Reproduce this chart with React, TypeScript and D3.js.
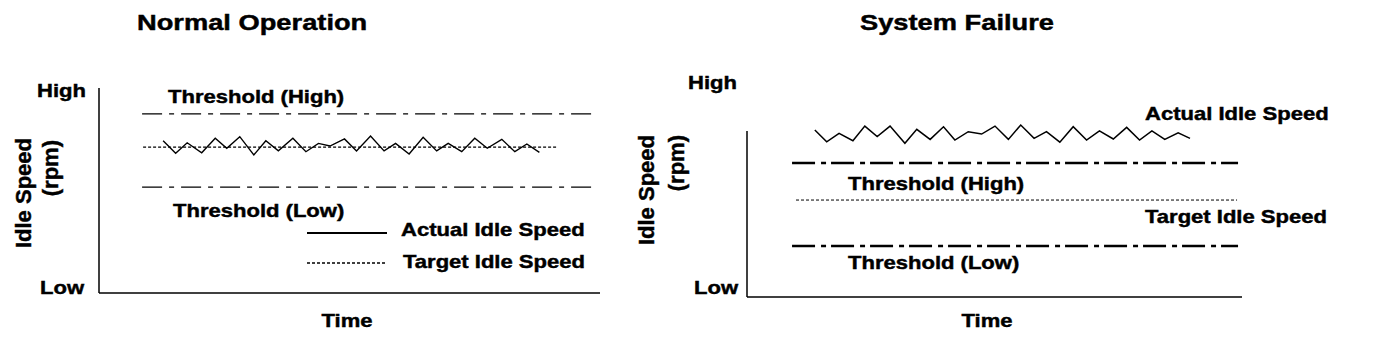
import React from "react";
import * as d3 from "d3";

// ---------- data (time 0..100, idle speed 0 = Low .. 100 = High) ----------
const leftTime = [12.8, 15.3, 17.6, 20.5, 23.2, 25.5, 28.1, 30.9, 33.3, 35.8, 38.7, 41.3, 43.8, 46.1, 49.0, 51.4, 54.2, 56.9, 59.2, 61.9, 64.7, 67.4, 69.7, 72.4, 75.0, 77.5, 80.4, 83.0, 85.4, 87.9];
const leftActual = [75.0, 68.8, 74.0, 69.1, 76.2, 71.3, 77.0, 68.0, 75.0, 70.0, 76.2, 69.6, 73.7, 72.4, 75.9, 70.0, 77.3, 70.0, 73.7, 68.5, 76.7, 70.0, 73.7, 69.6, 76.2, 71.3, 75.7, 69.6, 73.4, 69.3];
const leftThresholdHigh = 88.2;
const leftTarget = 71.9;
const leftThresholdLow = 52.2;
const leftThresholdSpan = [8.6, 98.4];
const leftTargetSpan = [8.8, 91.4];

const rightTime = [13.7, 16.1, 18.6, 21.4, 23.8, 26.3, 28.9, 31.9, 34.3, 37.0, 39.7, 42.0, 44.7, 47.4, 50.1, 52.8, 55.3, 58.0, 60.5, 63.2, 65.9, 68.6, 71.2, 74.0, 76.7, 79.3, 81.8, 84.4, 87.1, 89.5];
const rightActual = [77.7, 72.2, 76.1, 72.7, 79.5, 74.6, 79.5, 71.5, 78.0, 73.3, 79.2, 73.0, 76.9, 75.8, 79.5, 73.3, 80.0, 73.8, 76.9, 72.0, 79.2, 73.0, 77.3, 73.5, 78.9, 73.0, 77.3, 73.3, 76.4, 73.8];
const rightThresholdHigh = 62.3;
const rightTarget = 45.1;
const rightThresholdLow = 23.7;
const rightThresholdSpan = [9.1, 99.2];
const rightTargetSpan = [9.9, 99.0];

const titles = ["Normal Operation", "System Failure"];
const yTickLabels = ["High", "Low"];
const yAxisTitle = ["Idle Speed", "(rpm)"];
const xAxisTitle = "Time";
const seriesNames = ["Actual Idle Speed", "Target Idle Speed", "Threshold (High)", "Threshold (Low)"];

const FONT = "'Liberation Sans', Arial, Helvetica, sans-serif";

type TProps = { x: number; y: number; size: number; sx?: number; anchor?: string; children: React.ReactNode };
function T({ x, y, size, sx = 1.16, anchor = "start", children }: TProps) {
  return (
    <text
      transform={`translate(${x},${y}) scale(${sx},1)`}
      fontFamily={FONT}
      fontWeight="bold"
      fontSize={size}
      textAnchor={anchor}
      fill="#000"
      stroke="#000"
      strokeWidth={0.45}
    >
      {children}
    </text>
  );
}

function VText({ x, y, children }: { x: number; y: number; children: React.ReactNode }) {
  return (
    <text
      transform={`translate(${x},${y}) rotate(-90)`}
      fontFamily={FONT}
      fontWeight="bold"
      fontSize={22}
      textAnchor="end"
      fill="#000"
      stroke="#000"
      strokeWidth={0.45}
    >
      {children}
    </text>
  );
}

export default function App() {
  // ----- left panel scales -----
  const xL = d3.scaleLinear().domain([0, 100]).range([99, 600]);
  const yL = d3.scaleLinear().domain([0, 100]).range([293, 90]);
  // ----- right panel scales -----
  const xR = d3.scaleLinear().domain([0, 100]).range([747, 1242]);
  const yR = d3.scaleLinear().domain([0, 100]).range([297, 82]);

  const lineL = d3
    .line<number>()
    .x((_, i) => xL(leftTime[i]))
    .y((d) => yL(d));
  const lineR = d3
    .line<number>()
    .x((_, i) => xR(rightTime[i]))
    .y((d) => yR(d));

  const hLine = (
    x: d3.ScaleLinear<number, number>,
    y: d3.ScaleLinear<number, number>,
    span: number[],
    v: number
  ) => ({ x1: x(span[0]), x2: x(span[1]), y1: y(v), y2: y(v) });

  return (
    <svg
      width={1376}
      height={338}
      style={{ position: "absolute", left: 0, top: 0, background: "#fff" }}
    >
      <rect x={0} y={0} width={1376} height={338} fill="#fff" />

      {/* ================= LEFT PANEL ================= */}
      <T x={137} y={30} size={22} sx={1.24}>{titles[0]}</T>
      {/* axes */}
      <line x1={xL(0)} x2={xL(0)} y1={yL(0)} y2={yL(101)} stroke="#000" strokeWidth={1.5} />
      <line x1={xL(0)} x2={xL(100)} y1={yL(0)} y2={yL(0)} stroke="#000" strokeWidth={1.5} />
      <T x={37} y={97} size={19}>{yTickLabels[0]}</T>
      <T x={40} y={294} size={19}>{yTickLabels[1]}</T>
      <VText x={31} y={138}>{yAxisTitle[0]}</VText>
      <VText x={58} y={140}>{yAxisTitle[1]}</VText>
      <T x={347} y={327} size={19} anchor="middle">{xAxisTitle}</T>

      {/* thresholds */}
      <line {...hLine(xL, yL, leftThresholdSpan, leftThresholdHigh)} stroke="#000" strokeWidth={1.2} strokeDasharray="20 7 5 7" />
      <line {...hLine(xL, yL, leftThresholdSpan, leftThresholdLow)} stroke="#000" strokeWidth={1.2} strokeDasharray="20 7 5 7" />
      {/* target */}
      <line {...hLine(xL, yL, leftTargetSpan, leftTarget)} stroke="#000" strokeWidth={1.3} strokeDasharray="3 2" />
      {/* actual */}
      <path d={lineL(leftActual) || ""} fill="none" stroke="#000" strokeWidth={1.4} strokeLinejoin="miter" />

      <T x={168} y={103} size={19}>{seriesNames[2]}</T>
      <T x={173} y={217} size={19}>{seriesNames[3]}</T>

      {/* legend */}
      <line x1={307} x2={387} y1={233} y2={233} stroke="#000" strokeWidth={2} />
      <T x={401} y={236} size={19}>{seriesNames[0]}</T>
      <line x1={307} x2={387} y1={263} y2={263} stroke="#000" strokeWidth={1.5} strokeDasharray="3 2" />
      <T x={403} y={268} size={19}>{seriesNames[1]}</T>

      {/* ================= RIGHT PANEL ================= */}
      <T x={860} y={30} size={22} sx={1.24}>{titles[1]}</T>
      <line x1={xR(0)} x2={xR(0)} y1={yR(0)} y2={yR(77.2)} stroke="#000" strokeWidth={1.5} />
      <line x1={xR(0)} x2={xR(100)} y1={yR(0)} y2={yR(0)} stroke="#000" strokeWidth={1.5} />
      <T x={688} y={89} size={19}>{yTickLabels[0]}</T>
      <T x={694} y={294} size={19}>{yTickLabels[1]}</T>
      <VText x={654} y={135}>{yAxisTitle[0]}</VText>
      <VText x={684} y={135}>{yAxisTitle[1]}</VText>
      <T x={987} y={327} size={19} anchor="middle">{xAxisTitle}</T>

      <line {...hLine(xR, yR, rightThresholdSpan, rightThresholdHigh)} stroke="#000" strokeWidth={2.5} strokeDasharray="23 6 5 5" />
      <line {...hLine(xR, yR, rightThresholdSpan, rightThresholdLow)} stroke="#000" strokeWidth={2.5} strokeDasharray="23 6 5 5" />
      <line {...hLine(xR, yR, rightTargetSpan, rightTarget)} stroke="#000" strokeWidth={1} strokeDasharray="3 2" />
      <path d={lineR(rightActual) || ""} fill="none" stroke="#000" strokeWidth={1.5} />

      <T x={1145} y={120} size={19}>{seriesNames[0]}</T>
      <T x={848} y={190} size={19}>{seriesNames[2]}</T>
      <T x={1145} y={223} size={19}>{seriesNames[1]}</T>
      <T x={848} y={269} size={19}>{seriesNames[3]}</T>
    </svg>
  );
}
